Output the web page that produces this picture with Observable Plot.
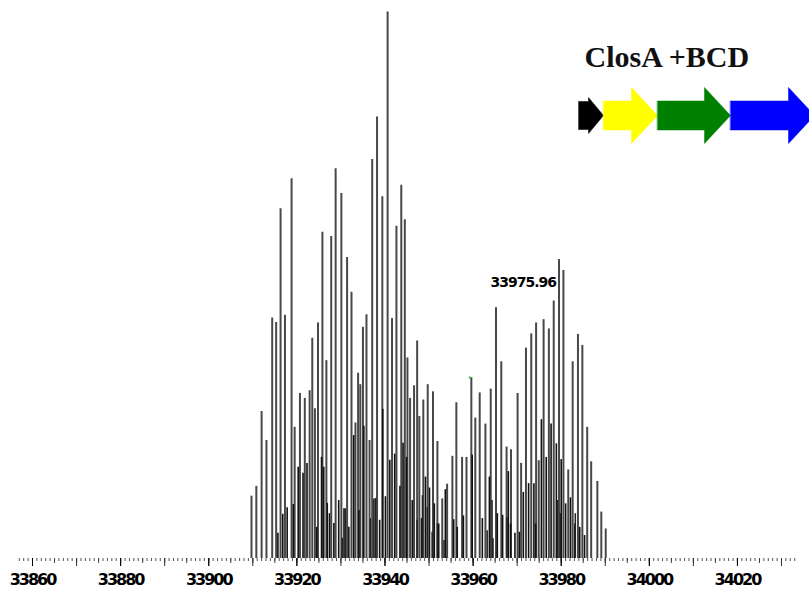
<!DOCTYPE html>
<html>
<head>
<meta charset="utf-8">
<script src="https://cdn.jsdelivr.net/npm/d3@7"></script>
<script src="https://cdn.jsdelivr.net/npm/@observablehq/plot@0.6"></script>
<style>
  html, body { margin: 0; padding: 0; background: #fff; }
  #wrap { position: relative; width: 809px; height: 589px; overflow: hidden; }
  #genes { position: absolute; left: 578px; top: 80px; width: 240px; height: 70px; }
  #genes svg { max-width: none !important; }
  g[aria-label="x-axis tick label"] text { letter-spacing: -2px; }
  g[aria-label="text"].peaklabel text { letter-spacing: -1px; }
</style>
</head>
<body>
<div id="wrap"><div id="main"></div><div id="genes"></div></div>
<script>
// Main peaks (deconvoluted mass, relative intensity %)
const peakMass = [33909.7, 33910.8, 33912.0, 33913.1, 33914.4, 33915.3, 33916.3, 33917.3, 33918.8, 33919.5,
  33920.7, 33921.8, 33922.9, 33923.5, 33924.1, 33924.8, 33925.8, 33926.7, 33927.8, 33928.8,
  33930.1, 33931.4, 33932.4, 33933.3, 33933.9, 33934.4, 33935.0, 33935.8, 33936.5, 33937.1,
  33938.2, 33939.4, 33940.6, 33941.6, 33942.6, 33943.7, 33944.5, 33945.1, 33945.7, 33946.6,
  33947.3, 33947.8, 33948.7, 33949.7, 33950.9, 33951.9, 33953.0, 33954.1, 33955.3, 33956.2,
  33957.5, 33958.5, 33959.6, 33960.5, 33961.5, 33962.8, 33964.0, 33965.2, 33966.4, 33967.6,
  33968.6, 33970.1, 33970.9, 33972.0, 33973.2, 33974.3, 33974.9, 33976.0, 33977.2, 33978.3,
  33979.5, 33980.5, 33981.6, 33982.6, 33983.8, 33984.8, 33985.9, 33986.8, 33988.2, 33989.1, 33990.1];
const peakIntensity = [11.4, 13.2, 26.9, 21.6, 44.0, 43.2, 64.0, 44.5, 69.5, 24.0,
  30.2, 29.3, 30.7, 40.3, 27.4, 43.1, 59.7, 36.2, 58.9, 71.3,
  66.8, 55.1, 48.7, 24.8, 33.9, 31.8, 42.3, 44.6, 21.6, 73.0,
  80.8, 66.2, 100, 43.9, 60.8, 68.3, 62.0, 36.7, 29.3, 31.6,
  39.8, 26.0, 29.0, 31.8, 30.5, 21.4, 10.9, 13.6, 18.7, 28.5,
  18.5, 18.5, 33.1, 25.7, 30.3, 24.6, 31.0, 45.9, 36.0, 20.4,
  19.9, 30.2, 17.4, 38.5, 41.1, 43.1, 17.9, 43.7, 42.0, 47.1,
  54.7, 52.7, 16.2, 36.0, 41.0, 39.0, 24.0, 17.7, 14.1, 8.5, 5.4];

// Smaller interleaved peaks
const minorMass = [33915.7, 33916.8, 33917.8, 33919.2, 33920.3, 33921.4, 33922.3, 33924.5, 33925.6, 33926.1,
  33926.9, 33927.4, 33928.4, 33929.5, 33930.7, 33931.8, 33932.9, 33934.1, 33935.2, 33937.5,
  33938.8, 33939.5, 33940.1, 33941.1, 33942.2, 33943.4, 33944.1, 33944.9, 33946.2, 33948.3,
  33949.2, 33950.1, 33951.2, 33952.2, 33953.7, 33955.6, 33956.4, 33957.8, 33959.8, 33962.1,
  33963.7, 33964.5, 33965.5, 33966.7, 33968.0, 33968.5, 33969.5, 33970.5, 33971.4, 33972.6,
  33973.8, 33974.2, 33975.5, 33976.6, 33977.7, 33978.9, 33980.0, 33981.0, 33982.1, 33983.1,
  33984.2, 33985.3];
const minorIntensity = [4.6, 8.1, 9.3, 9.9, 16.7, 15.6, 17.4, 5.7, 18.5, 16.7,
  10.1, 8.2, 6.4, 10.6, 9.1, 5.7, 22.5, 8.8, 24.2, 10.9,
  7.0, 27.3, 11.3, 18.0, 19.1, 13.2, 21.1, 18.5, 10.6, 7.3,
  14.9, 12.9, 10.0, 6.3, 12.6, 7.1, 5.7, 7.8, 18.9, 7.3,
  14.9, 3.6, 8.2, 7.9, 15.9, 6.3, 4.6, 4.8, 12.1, 13.7,
  13.7, 6.3, 25.4, 18.5, 24.6, 21.0, 18.1, 10.0, 11.1, 6.3,
  5.7, 4.2];

// Baseline clutter peaks
const traceMass = [33930.3, 33931.0, 33936.7, 33937.9, 33947.3, 33948.5, 33949.6, 33950.7, 33951.9, 33953.4,
  33963.2, 33964.3, 33967.7, 33979.1, 33979.8, 33983.2];
const traceIntensity = [3.7, 9.1, 7.3, 11.0, 7.0, 11.5, 9.3, 4.8, 6.4, 3.3,
  5.1, 10.6, 7.5, 10.6, 8.2, 8.2];

const tickLabels = [33860, 33880, 33900, 33920, 33940, 33960, 33980, 34000, 34020];
const annotationText = "33975.96";
const annotationIndex = 70; // peak carrying the label
const greenMarkIndex = 52;

const title = "ClosA +BCD";
const geneNames = ["closA", "closB", "closC", "closD"];
const geneLengths = [25, 54, 73, 84];
const geneColors = ["#000000", "#ffff00", "#008000", "#0000ff"];

const peaks = peakMass.map((m, i) => ({mass: m, intensity: peakIntensity[i]}));
const minor = minorMass.map((m, i) => ({mass: m, intensity: minorIntensity[i]}));
const trace = traceMass.map((m, i) => ({mass: m, intensity: traceIntensity[i]}));

const xDomain = [33856.82, 34033.63];
const minorTicks = d3.range(33857, 34034, 1);
const midTicks = d3.range(33860, 34034, 5);
const bigTicks = d3.range(33860, 34034, 10);

const main = Plot.plot({
  width: 809, height: 589,
  marginLeft: 18, marginRight: 12, marginTop: 11.5, marginBottom: 31,
  x: {domain: xDomain, axis: null},
  y: {domain: [0, 100], axis: null},
  style: {background: "#fff"},
  marks: [
    Plot.ruleX(peaks, {x: "mass", y1: 0, y2: "intensity", stroke: "#484848", strokeWidth: 2}),
    Plot.ruleX(minor, {x: "mass", y1: 0, y2: "intensity", stroke: "#111", strokeWidth: 1.6}),
    Plot.ruleX(trace, {x: "mass", y1: 0, y2: "intensity", stroke: "#222", strokeWidth: 1.5}),
    Plot.axisX(minorTicks, {tickSize: 3, tickFormat: () => "", label: null, stroke: "#555"}),
    Plot.axisX(midTicks, {tickSize: 5, tickFormat: () => "", label: null, stroke: "#444"}),
    Plot.axisX(bigTicks, {tickSize: 8, tickFormat: () => "", label: null, stroke: "#333"}),
    Plot.axisX(tickLabels, {tickSize: 8, tickPadding: 7, label: null, tickFormat: d => String(d),
      fontSize: 16, fontWeight: "bold", fontFamily: "DejaVu Sans", fill: "#000"}),
    Plot.text([peaks[annotationIndex]], {x: "mass", y: "intensity", text: () => annotationText,
      textAnchor: "end", dx: -3, dy: 23, fontSize: 14, fontWeight: "bold", fontFamily: "DejaVu Sans",
      fill: "#000", className: "peaklabel"}),
    Plot.dot([peaks[greenMarkIndex]], {x: "mass", y: "intensity", r: 1.3, fill: "#6c6", stroke: null, dx: -1.5}),
    Plot.text([title], {frameAnchor: "top-left", lineAnchor: "top", dx: 566, dy: 34, textAnchor: "start",
      fontSize: 30, fontWeight: "bold", fontFamily: "Liberation Serif", fill: "#111"})
  ]
});
document.getElementById("main").appendChild(main);

// Gene cluster arrows
let start = 0;
const arrowPts = [];
geneNames.forEach((g, i) => {
  const s = start, e = start + geneLengths[i];
  start = e;
  const small = geneLengths[i] < 30;
  const body = small ? 14 : 14.5, head = small ? 18 : 28, hl = small ? 15 : 26;
  const pts = [[s, -body], [e - hl, -body], [e - hl, -head], [e, 0], [e - hl, head], [e - hl, body], [s, body]];
  pts.forEach(([x, y]) => arrowPts.push({gene: g, color: geneColors[i], x, y}));
});
const genes = Plot.plot({
  width: 240, height: 70, margin: 0,
  style: {maxWidth: "none"},
  x: {domain: [0, 240], range: [0, 240], axis: null},
  y: {domain: [-35, 35], range: [70, 0], axis: null},
  marks: [
    Plot.line(arrowPts, {x: "x", y: "y", z: "gene", fill: "color", stroke: "color", strokeWidth: 0.5, curve: "linear-closed"})
  ]
});
document.getElementById("genes").appendChild(genes);
</script>
</body>
</html>
